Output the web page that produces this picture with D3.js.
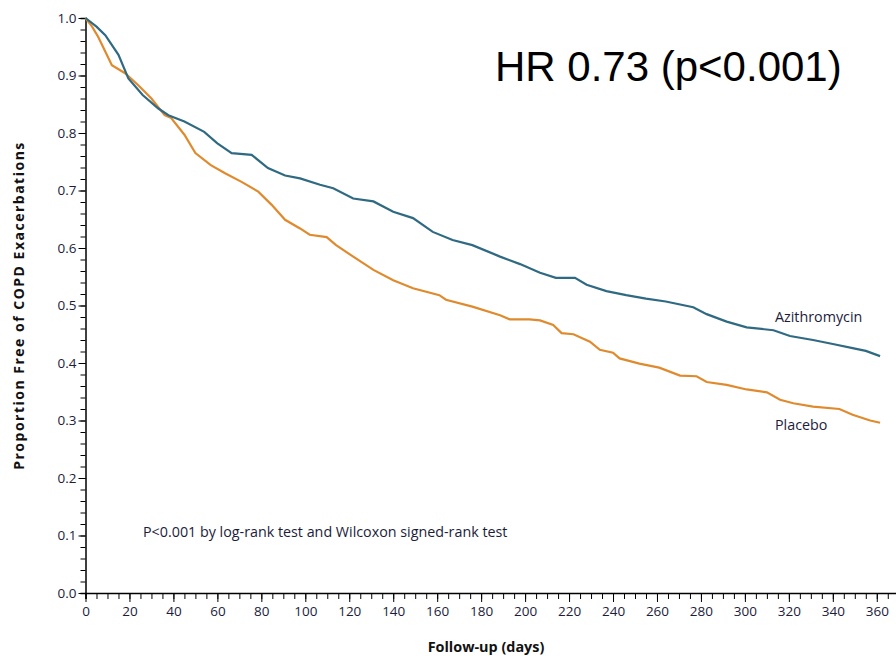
<!DOCTYPE html>
<html>
<head>
<meta charset="utf-8">
<title>COPD exacerbation-free survival</title>
<script src="https://cdn.jsdelivr.net/npm/d3@7"></script>
<style>
  body { margin: 0; background: #fff; }
  text { font-family: "Open Sans", "DejaVu Sans", sans-serif; }
</style>
</head>
<body>
<svg id="mainsvg" width="896" height="656"></svg>
<script>
// data (days, proportion free of exacerbations)
const azDays = [0, 5, 9, 15, 19.5, 26, 33, 37.7, 45, 54, 60, 66.5, 75.6, 83, 90.8, 97.6, 106.7, 112.7, 121.8, 131, 140, 149, 158, 167, 176, 188.6, 197.7, 206.8, 214, 222.7, 228, 237, 246, 255, 264, 276.5, 282.6, 291.7, 300.8, 313, 320.5, 331, 340, 349, 355, 361.5];
const azSurv = [1.0, 0.985, 0.970, 0.936, 0.895, 0.866, 0.843, 0.831, 0.820, 0.802, 0.782, 0.765, 0.762, 0.739, 0.726, 0.721, 0.710, 0.704, 0.686, 0.681, 0.663, 0.652, 0.628, 0.614, 0.605, 0.585, 0.572, 0.557, 0.548, 0.548, 0.536, 0.525, 0.518, 0.512, 0.507, 0.497, 0.485, 0.472, 0.462, 0.457, 0.447, 0.440, 0.433, 0.426, 0.421, 0.412];

const plDays = [0, 3, 5.8, 12, 18, 24, 30, 36, 39, 45, 50, 57, 63.5, 71, 78.6, 84.7, 90.8, 97.6, 102, 109.7, 114, 121.8, 131, 140, 149, 161, 164, 176, 188.6, 193, 202, 206.8, 212.8, 216.6, 222, 229.5, 234, 240, 243, 252, 261, 270.5, 278, 282.6, 291.7, 300.8, 310, 316, 322, 331, 343, 349, 357, 361.5];
const plSurv = [1.0, 0.985, 0.967, 0.918, 0.904, 0.883, 0.860, 0.831, 0.826, 0.797, 0.765, 0.744, 0.730, 0.715, 0.698, 0.675, 0.649, 0.634, 0.623, 0.619, 0.605, 0.585, 0.562, 0.544, 0.530, 0.518, 0.510, 0.498, 0.483, 0.476, 0.476, 0.474, 0.466, 0.452, 0.450, 0.437, 0.423, 0.418, 0.408, 0.399, 0.392, 0.378, 0.377, 0.367, 0.362, 0.354, 0.349, 0.336, 0.330, 0.324, 0.320, 0.310, 0.300, 0.296];

const xTicks = d3.range(0, 361, 20);
const yTicks = d3.range(0, 1.01, 0.1);

const svg = d3.select("#mainsvg");

const xScale = d3.scaleLinear().domain([0, 370]).range([85.5, 85.5 + 370 * 2.198]);
const yScale = d3.scaleLinear().domain([0, 1]).range([593, 18]);

const tickColor = "#1c1c3c";

// x axis: minor ticks every 5 days, labelled ticks every 20
svg.append("g")
  .attr("transform", `translate(0, ${yScale(0)})`)
  .call(d3.axisBottom(xScale).tickValues(d3.range(0, 371, 5)).tickSize(6).tickFormat(""))
  .call(g => g.select(".domain").attr("stroke-width", 1.5));
const xAxisG = svg.append("g")
  .attr("transform", `translate(0, ${yScale(0)})`)
  .call(d3.axisBottom(xScale).tickValues(xTicks).tickSize(9).tickPadding(4).tickFormat(d3.format("d")));
xAxisG.select(".domain").remove();
xAxisG.selectAll("text").attr("font-size", 13.5).attr("fill", tickColor);

// y axis: minor ticks every 0.02
svg.append("g")
  .attr("transform", `translate(${xScale(0)}, 0)`)
  .call(d3.axisLeft(yScale).tickValues(d3.range(0, 1.001, 0.02)).tickSize(5).tickFormat(""))
  .call(g => g.select(".domain").attr("stroke-width", 1.5));
const yAxisG = svg.append("g")
  .attr("transform", `translate(${xScale(0)}, 0)`)
  .call(d3.axisLeft(yScale).tickValues(yTicks).tickSize(7).tickPadding(2).tickFormat(d3.format(".1f")));
yAxisG.select(".domain").remove();
yAxisG.selectAll("text").attr("font-size", 13.5).attr("fill", tickColor);

// curves
const line = d3.line()
  .x(d => xScale(d[0]))
  .y(d => yScale(d[1]));

svg.append("path")
  .datum(plDays.map((d, i) => [d, plSurv[i]]))
  .attr("fill", "none")
  .attr("stroke", "#e08a2e")
  .attr("stroke-width", 2.2)
  .attr("d", line);

svg.append("path")
  .datum(azDays.map((d, i) => [d, azSurv[i]]))
  .attr("fill", "none")
  .attr("stroke", "#2f6a82")
  .attr("stroke-width", 2.2)
  .attr("d", line);

// labels
svg.append("text").attr("x", 775).attr("y", 322).attr("font-size", 14.3).attr("fill", tickColor).text("Azithromycin");
svg.append("text").attr("x", 775).attr("y", 430).attr("font-size", 14.3).attr("fill", tickColor).text("Placebo");
svg.append("text").attr("x", 143).attr("y", 537).attr("font-size", 14.3).attr("fill", tickColor)
  .text("P<0.001 by log-rank test and Wilcoxon signed-rank test");

svg.append("text")
  .attr("transform", `translate(24, ${yScale(0.5)}) rotate(-90)`)
  .attr("text-anchor", "middle")
  .attr("font-size", 14).attr("font-weight", "bold").attr("fill", "#111")
  .attr("letter-spacing", 1.5)
  .text("Proportion Free of COPD Exacerbations");

svg.append("text")
  .attr("x", 486).attr("y", 652)
  .attr("text-anchor", "middle")
  .attr("font-size", 14.4).attr("font-weight", "bold").attr("fill", "#111")
  .text("Follow-up (days)");

svg.append("text")
  .attr("x", 495).attr("y", 81)
  .style("font-family", "'Liberation Sans', Arial, sans-serif")
  .attr("font-size", 42).attr("fill", "#000")
  .text("HR 0.73 (p<0.001)");
</script>
</body>
</html>
